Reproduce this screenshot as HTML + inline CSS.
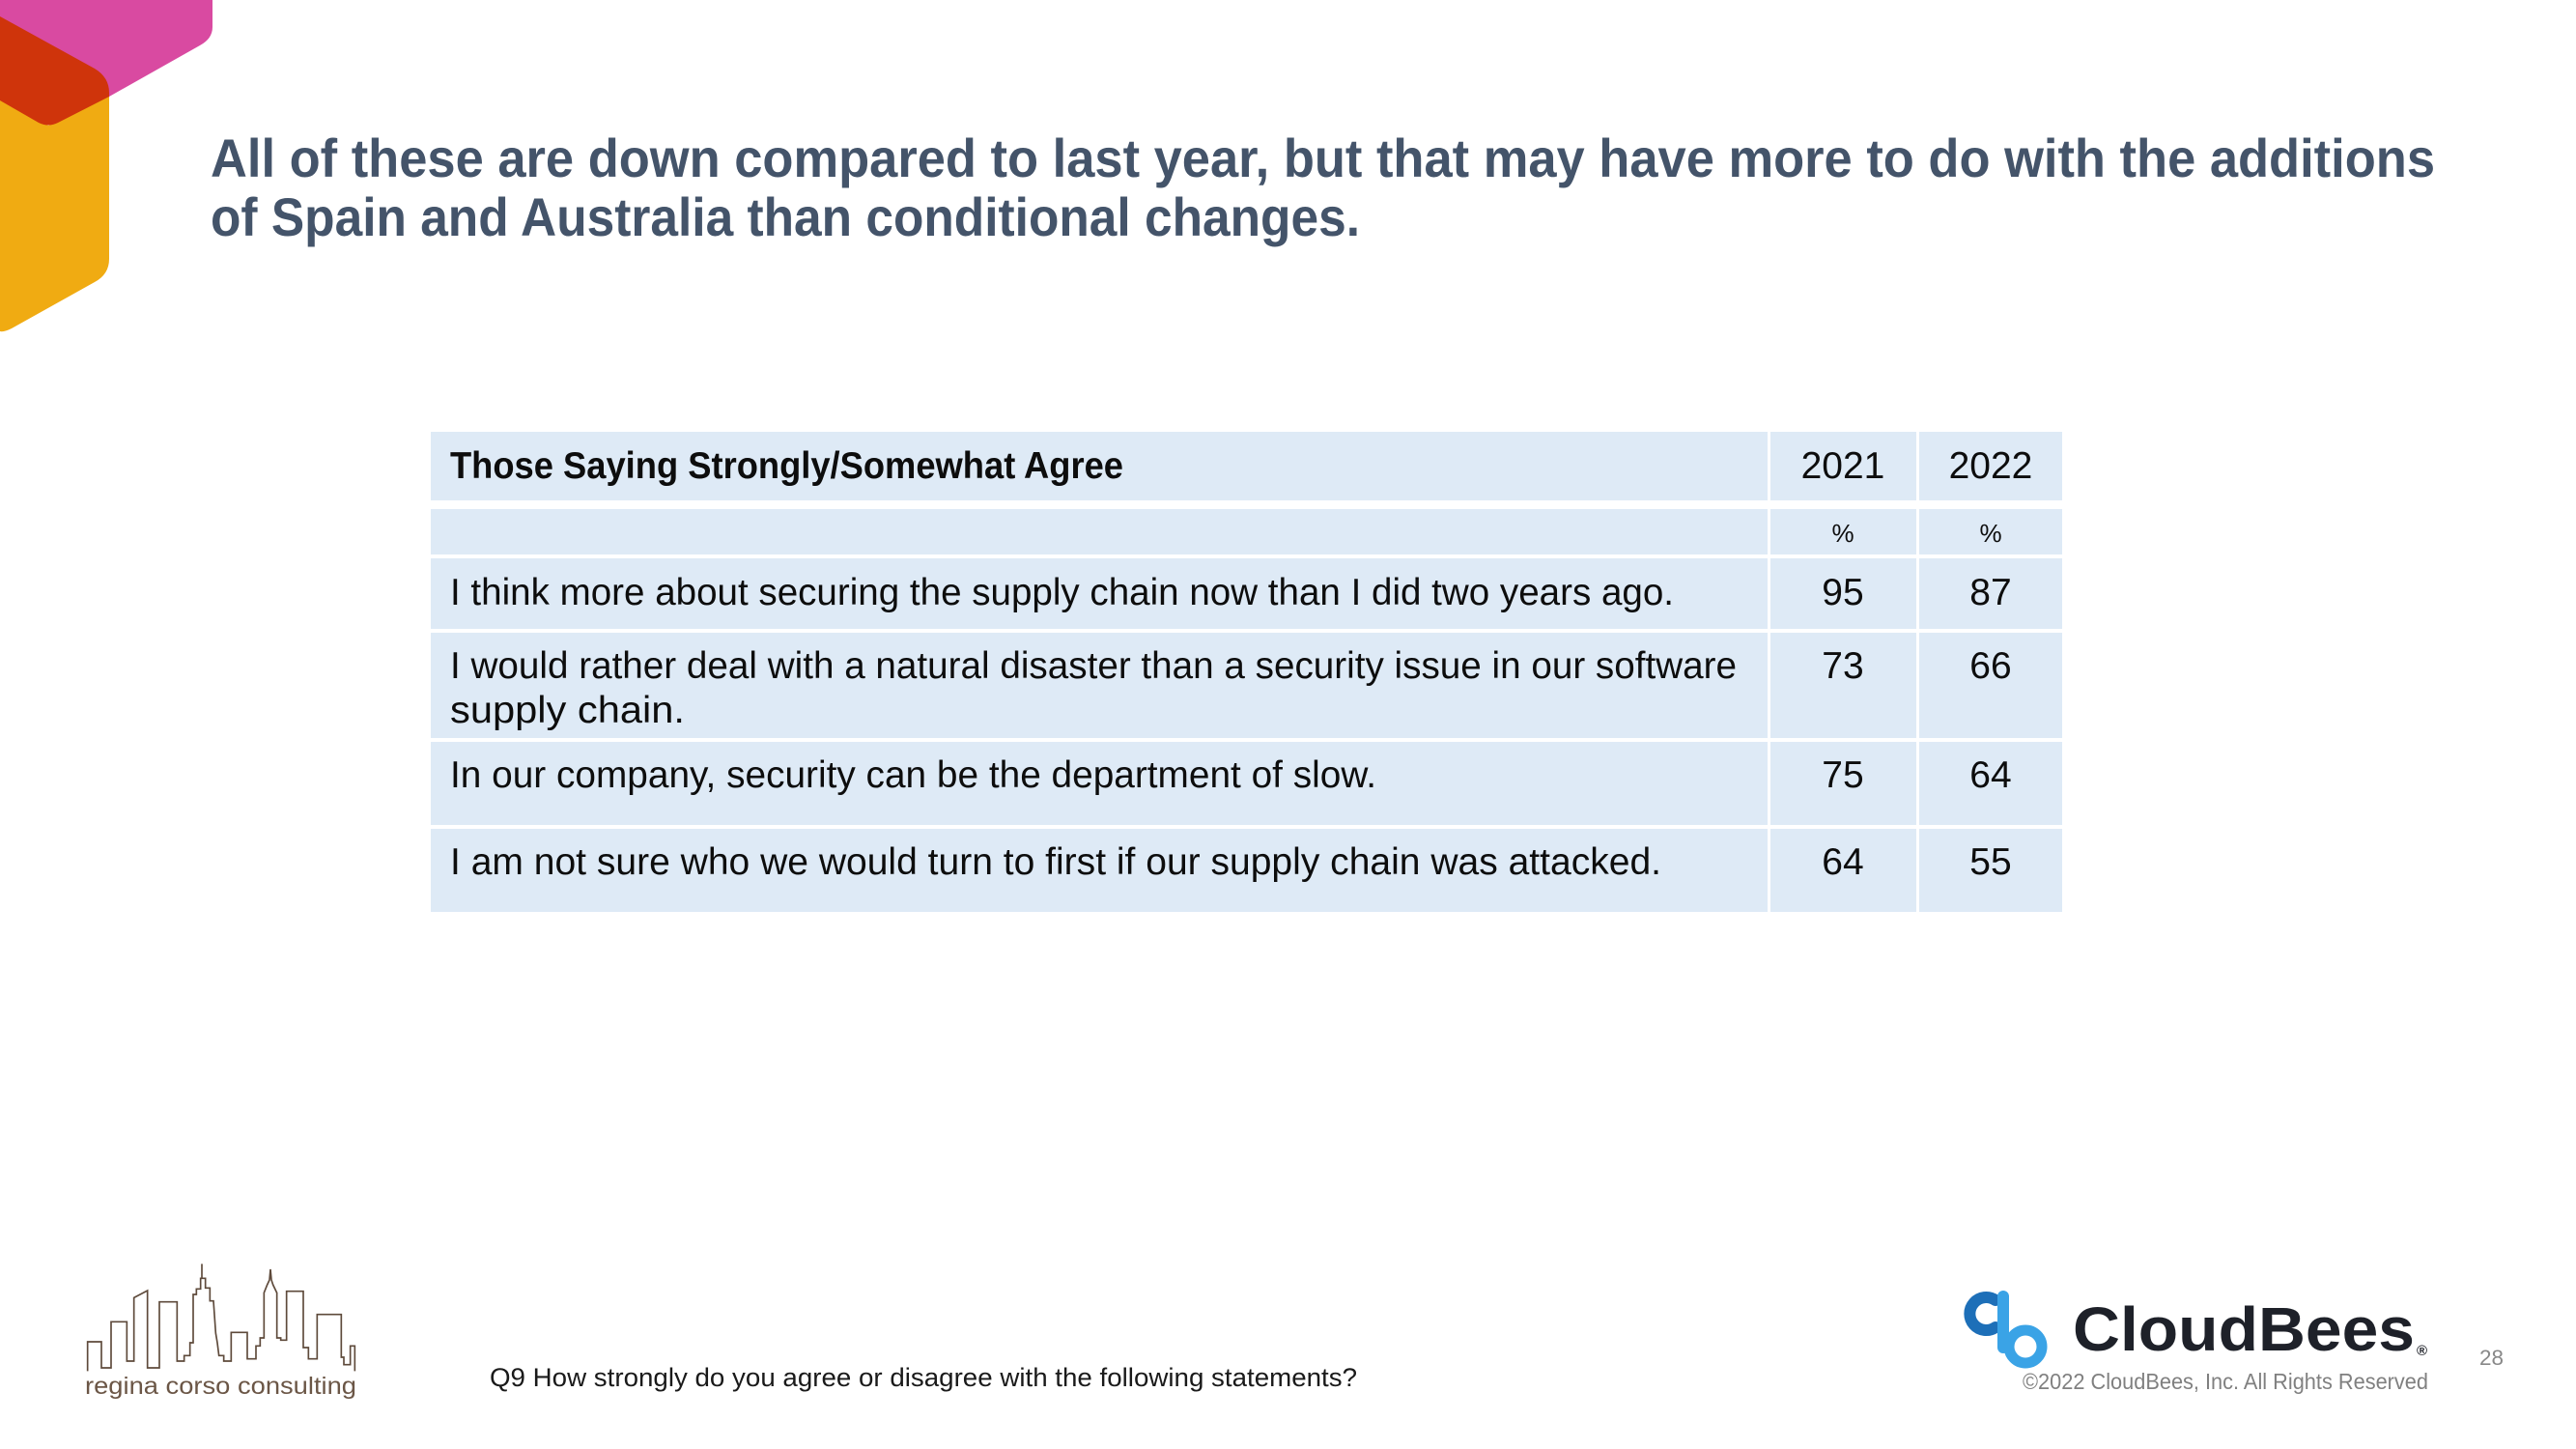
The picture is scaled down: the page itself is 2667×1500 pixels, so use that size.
<!DOCTYPE html>
<html>
<head>
<meta charset="utf-8">
<style>
  html,body{margin:0;padding:0;background:#ffffff;}
  body{width:2667px;height:1500px;overflow:hidden;}
  svg{display:block;}
  text{font-family:"Liberation Sans", Arial, sans-serif;}
</style>
</head>
<body>
<svg width="2667" height="1500" viewBox="0 0 2667 1500" xmlns="http://www.w3.org/2000/svg">
  <rect x="0" y="0" width="2667" height="1500" fill="#ffffff"/>

  <!-- top-left decorative logo shapes -->
  <path d="M0 90 L50 130 L113 97 L113 268 Q113 284 98 292 L12 340 Q4 344 0 343 Z" fill="#F0AB12"/>
  <path d="M0 0 L220 0 L220 28 Q220 40 207 47 L113 100 L0 100 Z" fill="#D94AA1"/>
  <path d="M0 17 L98 71 Q113 80 113 96 L113 100 L60 127 Q50 132 40 127 L0 104 Z" fill="#CF340B"/>

  <!-- Title -->
  <text x="218" y="183" font-size="56" font-weight="bold" fill="#44546A" textLength="2303" lengthAdjust="spacingAndGlyphs">All of these are down compared to last year, but that may have more to do with the additions</text>
  <text x="218" y="244" font-size="56" font-weight="bold" fill="#44546A" textLength="1190" lengthAdjust="spacingAndGlyphs">of Spain and Australia than conditional changes.</text>

  <!-- Table cells -->
  <g fill="#DEEAF6">
    <rect x="446" y="447" width="1384" height="71"/>
    <rect x="1833" y="447" width="151" height="71"/>
    <rect x="1987" y="447" width="148" height="71"/>
    <rect x="446" y="527" width="1384" height="47"/>
    <rect x="1833" y="527" width="151" height="47"/>
    <rect x="1987" y="527" width="148" height="47"/>
    <rect x="446" y="578" width="1384" height="73"/>
    <rect x="1833" y="578" width="151" height="73"/>
    <rect x="1987" y="578" width="148" height="73"/>
    <rect x="446" y="655" width="1384" height="109"/>
    <rect x="1833" y="655" width="151" height="109"/>
    <rect x="1987" y="655" width="148" height="109"/>
    <rect x="446" y="768" width="1384" height="86"/>
    <rect x="1833" y="768" width="151" height="86"/>
    <rect x="1987" y="768" width="148" height="86"/>
    <rect x="446" y="858" width="1384" height="86"/>
    <rect x="1833" y="858" width="151" height="86"/>
    <rect x="1987" y="858" width="148" height="86"/>
  </g>

  <!-- Table text -->
  <g fill="#0d0d0d" font-size="39">
    <text x="466" y="495" font-weight="bold" textLength="697" lengthAdjust="spacingAndGlyphs">Those Saying Strongly/Somewhat Agree</text>
    <text x="1908" y="495" text-anchor="middle">2021</text>
    <text x="2061" y="495" text-anchor="middle">2022</text>

    <text x="1908" y="561" text-anchor="middle" font-size="26">%</text>
    <text x="2061" y="561" text-anchor="middle" font-size="26">%</text>

    <text x="466" y="626" textLength="1267" lengthAdjust="spacingAndGlyphs">I think more about securing the supply chain now than I did two years ago.</text>
    <text x="1908" y="626" text-anchor="middle">95</text>
    <text x="2061" y="626" text-anchor="middle">87</text>

    <text x="466" y="702" textLength="1332" lengthAdjust="spacingAndGlyphs">I would rather deal with a natural disaster than a security issue in our software</text>
    <text x="466" y="748" textLength="243" lengthAdjust="spacingAndGlyphs">supply chain.</text>
    <text x="1908" y="702" text-anchor="middle">73</text>
    <text x="2061" y="702" text-anchor="middle">66</text>

    <text x="466" y="815" textLength="959" lengthAdjust="spacingAndGlyphs">In our company, security can be the department of slow.</text>
    <text x="1908" y="815" text-anchor="middle">75</text>
    <text x="2061" y="815" text-anchor="middle">64</text>

    <text x="466" y="905" textLength="1254" lengthAdjust="spacingAndGlyphs">I am not sure who we would turn to first if our supply chain was attacked.</text>
    <text x="1908" y="905" text-anchor="middle">64</text>
    <text x="2061" y="905" text-anchor="middle">55</text>
  </g>

  <!-- regina corso consulting logo -->
  <g transform="translate(60,1290) scale(0.33333)">
    <polyline fill="none" stroke="#5E4A3B" stroke-width="5" stroke-linejoin="miter"
      points="92,388 92,297 135,297 135,378 165,378 165,235 214,235 214,357 236,357 236,160 278,138 278,378 315,378 315,173 370,173 370,357 392,357 392,340 410,340 410,300 420,300 420,150 430,150 430,133 443,133 443,100 447,100 447,55 447,100 458,100 458,130 472,130 472,170 483,170 490,270 495,300 500,340 515,340 515,357 538,357 538,268 588,268 588,350 615,350 615,310 628,310 628,285 640,285 640,145 650,120 657,105 660,72 663,105 668,120 680,145 680,285 692,285 692,292 710,292 710,140 762,140 762,315 778,315 778,350 805,350 805,212 880,212 880,345 888,345 888,368 908,368 908,310 922,310 922,388"/>
  </g>
  <text x="88" y="1443" font-size="25" fill="#6B5646" textLength="281" lengthAdjust="spacingAndGlyphs">regina corso consulting</text>

  <!-- footnote -->
  <text x="507" y="1435" font-size="27" fill="#1a1a1a" textLength="898" lengthAdjust="spacingAndGlyphs">Q9 How strongly do you agree or disagree with the following statements?</text>

  <!-- CloudBees logo -->
  <path d="M2066 1346 A17 17 0 1 0 2066 1374" fill="none" stroke="#1D6FB8" stroke-width="12" stroke-linecap="round"/>
  <line x1="2074" y1="1342" x2="2074" y2="1395" stroke="#3AA3E6" stroke-width="12" stroke-linecap="round"/>
  <circle cx="2097" cy="1394" r="17" fill="none" stroke="#3AA3E6" stroke-width="11"/>
  <text x="2146" y="1398" font-size="64" font-weight="bold" fill="#1E2129" textLength="354" lengthAdjust="spacingAndGlyphs">CloudBees</text>
  <text x="2502" y="1403" font-size="15" font-weight="bold" fill="#1E2129">®</text>

  <text x="2094" y="1438" font-size="23" fill="#808080" textLength="420" lengthAdjust="spacingAndGlyphs">©2022 CloudBees, Inc. All Rights Reserved</text>
  <text x="2567" y="1413" font-size="22" fill="#888888" textLength="25" lengthAdjust="spacingAndGlyphs">28</text>
</svg>
</body>
</html>
